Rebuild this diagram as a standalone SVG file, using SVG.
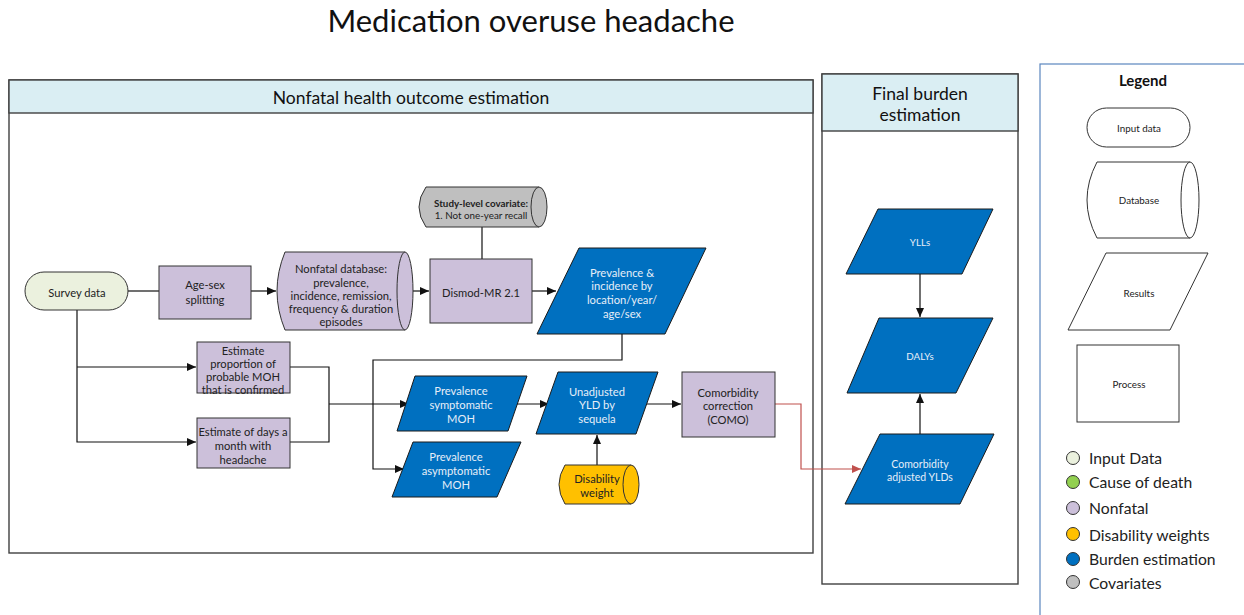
<svg xmlns="http://www.w3.org/2000/svg" width="1244" height="615" viewBox="0 0 1244 615">
  <style>
    text { font-family: Lato, "Liberation Sans", sans-serif; text-anchor: middle; dominant-baseline: central; }
    .t { font-size: 11.2px; fill: #222; }
    .tw { font-size: 11.2px; fill: #E6EEF8; }
    .ts { font-size: 9.8px; fill: #222; }
    .hdr { font-size: 17.5px; fill: #111; }
    .lg { font-size: 15.7px; fill: #222; text-anchor: start; }
    .panel { fill: #fff; stroke: #404040; stroke-width: 1.4; }
    .head { fill: #DAEEF3; stroke: #404040; stroke-width: 1.4; }
    .nf { fill: #CCC0DA; stroke: #333; stroke-width: 1; }
    .be { fill: #0070C0; stroke: #1a1a1a; stroke-width: 1; }
    .inp { fill: #EBF1DE; stroke: #333; stroke-width: 1; }
    .cov { fill: #BFBFBF; stroke: #333; stroke-width: 1; }
    .dw { fill: #FFC000; stroke: #333; stroke-width: 1; }
    .leg { fill: #fff; stroke: #333; stroke-width: 1; }
    .ln { fill: none; stroke: #111; stroke-width: 1.2; }
    .red { fill: none; stroke: #C0504D; stroke-width: 1.2; }
  </style>
  <defs>
    <marker id="arr" markerWidth="10" markerHeight="10" refX="9" refY="5" orient="auto" markerUnits="userSpaceOnUse">
      <path d="M0,1 L9,5 L0,9 Z" fill="#111"/>
    </marker>
    <marker id="arrRed" markerWidth="10" markerHeight="10" refX="9" refY="5" orient="auto" markerUnits="userSpaceOnUse">
      <path d="M0,1 L9,5 L0,9 Z" fill="#C0504D"/>
    </marker>
  </defs>

  <!-- Title -->
  <text x="531" y="20" style="font-size:31px;fill:#111">Medication overuse headache</text>

  <!-- Panels -->
  <g id="panel-nonfatal">
    <rect class="panel" x="9" y="80" width="804" height="473"/>
    <rect class="head" x="9" y="80" width="804" height="33"/>
    <text class="hdr" x="411" y="97">Nonfatal health outcome estimation</text>
  </g>
  <g id="panel-final">
    <rect class="panel" x="822" y="74" width="196" height="510"/>
    <rect class="head" x="822" y="74" width="196" height="57"/>
    <text class="hdr" x="920" y="93">Final burden</text>
    <text class="hdr" x="920" y="114">estimation</text>
  </g>
  <g id="panel-legend">
    <rect x="1040" y="64" width="220" height="570" fill="#fff" stroke="#5B86BE" stroke-width="1.2"/>
    <text x="1143" y="80" style="font-size:15px;font-weight:bold;fill:#111">Legend</text>
  </g>

  <!-- Connectors -->
  <g id="connectors">
    <path class="ln" d="M128,291 H159"/>
    <path class="ln" d="M251,291 H276" marker-end="url(#arr)"/>
    <path class="ln" d="M413,291 H429" marker-end="url(#arr)"/>
    <path class="ln" d="M532,291 H556" marker-end="url(#arr)"/>
    <path class="ln" d="M482,227 V259"/>
    <path class="ln" d="M77,310 V442 H196" marker-end="url(#arr)"/>
    <path class="ln" d="M77,367 H196" marker-end="url(#arr)"/>
    <path class="ln" d="M290,367 H329 V442 H290"/>
    <path class="ln" d="M329,404 H409" marker-end="url(#arr)"/>
    <path class="ln" d="M622,334 V360 H373 V469 H404" marker-end="url(#arr)"/>
    <path class="ln" d="M512,404 H549" marker-end="url(#arr)"/>
    <path class="ln" d="M647,404 H681" marker-end="url(#arr)"/>
    <path class="ln" d="M597,465 V435" marker-end="url(#arr)"/>
    <path class="red" d="M775,404 H801 V469 H861" marker-end="url(#arrRed)"/>
    <path class="ln" d="M920,274 V317" marker-end="url(#arr)"/>
    <path class="ln" d="M920,434 V394" marker-end="url(#arr)"/>
  </g>

  <!-- Nonfatal nodes -->
  <g id="survey-data">
    <rect class="inp" x="25" y="272" width="103" height="38" rx="19"/>
    <text class="t" x="77" y="292">Survey data</text>
  </g>
  <g id="age-sex">
    <rect class="nf" x="159" y="266" width="92" height="53"/>
    <text class="t" x="205" y="284">Age-sex</text>
    <text class="t" x="205" y="299">splitting</text>
  </g>
  <g id="nonfatal-db">
    <path class="nf" d="M285,252 H405 A8,39 0 0 1 405,330 H285 Q269,291 285,252 Z"/>
    <path class="nf" d="M405,252 A8,39 0 0 0 405,330"/>
    <text class="t" x="341" y="268">Nonfatal database:</text>
    <text class="t" x="341" y="282">prevalence,</text>
    <text class="t" x="341" y="295">incidence, remission,</text>
    <text class="t" x="341" y="308">frequency &amp; duration</text>
    <text class="t" x="341" y="321">episodes</text>
  </g>
  <g id="covariate">
    <path class="cov" d="M426,187 H539 A8,20 0 0 1 539,227 H426 Q412,207 426,187 Z"/>
    <path class="cov" d="M539,187 A8,20 0 0 0 539,227"/>
    <text class="ts" x="481" y="203" style="font-weight:bold">Study-level covariate:</text>
    <text class="ts" x="481" y="215">1. Not one-year recall</text>
  </g>
  <g id="dismod">
    <rect class="nf" x="430" y="259" width="102" height="64"/>
    <text class="t" x="481" y="292">Dismod-MR 2.1</text>
  </g>
  <g id="prev-inc">
    <polygon class="be" points="579,248 706,248 665,334 537,334"/>
    <text class="tw" x="622" y="272">Prevalence &amp;</text>
    <text class="tw" x="622" y="285">incidence by</text>
    <text class="tw" x="622" y="299">location/year/</text>
    <text class="tw" x="622" y="313">age/sex</text>
  </g>
  <g id="est-proportion">
    <rect class="nf" x="197" y="342" width="93" height="51"/>
    <text class="t" x="243" y="350">Estimate</text>
    <text class="t" x="243" y="363">proportion of</text>
    <text class="t" x="243" y="376">probable MOH</text>
    <text class="t" x="243" y="389">that is confirmed</text>
  </g>
  <g id="est-days">
    <rect class="nf" x="197" y="418" width="93" height="50"/>
    <text class="t" x="243" y="431">Estimate of days a</text>
    <text class="t" x="243" y="445">month with</text>
    <text class="t" x="243" y="459">headache</text>
  </g>
  <g id="prev-symptomatic">
    <polygon class="be" points="415,376 527,376 508,431 397,431"/>
    <text class="tw" x="461" y="390">Prevalence</text>
    <text class="tw" x="461" y="404">symptomatic</text>
    <text class="tw" x="461" y="418">MOH</text>
  </g>
  <g id="prev-asymptomatic">
    <polygon class="be" points="413,442 521,442 497,497 392,497"/>
    <text class="tw" x="456" y="456">Prevalence</text>
    <text class="tw" x="456" y="470">asymptomatic</text>
    <text class="tw" x="456" y="484">MOH</text>
  </g>
  <g id="unadjusted-yld">
    <polygon class="be" points="558,372 658,372 636,434 536,434"/>
    <text class="tw" x="597" y="391">Unadjusted</text>
    <text class="tw" x="597" y="404">YLD by</text>
    <text class="tw" x="597" y="418">sequela</text>
  </g>
  <g id="disability-weight">
    <path class="dw" d="M565,465 H631 A8,19.5 0 0 1 631,504 H565 Q553,484.5 565,465 Z"/>
    <path class="dw" d="M631,465 A8,19.5 0 0 0 631,504"/>
    <text class="t" x="597" y="478">Disability</text>
    <text class="t" x="597" y="492">weight</text>
  </g>
  <g id="como">
    <rect class="nf" x="682" y="372" width="93" height="65"/>
    <text class="t" x="728" y="392">Comorbidity</text>
    <text class="t" x="728" y="405">correction</text>
    <text class="t" x="728" y="419">(COMO)</text>
  </g>

  <!-- Final burden nodes -->
  <g id="ylls">
    <polygon class="be" points="878,209 993,209 962,274 846,274"/>
    <text class="tw" x="920" y="242" style="font-size:9.8px">YLLs</text>
  </g>
  <g id="dalys">
    <polygon class="be" points="879,318 993,318 956,393 847,393"/>
    <text class="tw" x="920" y="356" style="font-size:9.8px">DALYs</text>
  </g>
  <g id="comorbidity-adjusted">
    <polygon class="be" points="880,434 994,434 960,504 845,504"/>
    <text class="tw" x="920" y="464" style="font-size:10.5px">Comorbidity</text>
    <text class="tw" x="920" y="477" style="font-size:10.5px">adjusted YLDs</text>
  </g>

  <!-- Legend shapes -->
  <g id="legend-input">
    <rect class="leg" x="1087" y="108" width="103" height="39" rx="19.5"/>
    <text class="ts" x="1139" y="128">Input data</text>
  </g>
  <g id="legend-database">
    <path class="leg" d="M1097,162 H1190 A9,38 0 0 1 1190,238 H1097 Q1077,200 1097,162 Z"/>
    <path class="leg" d="M1190,162 A9,38 0 0 0 1190,238"/>
    <text class="ts" x="1139" y="200">Database</text>
  </g>
  <g id="legend-results">
    <polygon class="leg" points="1106,253 1208,253 1170,330 1068,330"/>
    <text class="ts" x="1139" y="293">Results</text>
  </g>
  <g id="legend-process">
    <rect class="leg" x="1077" y="345" width="102" height="77"/>
    <text class="ts" x="1129" y="384">Process</text>
  </g>
  <g id="legend-colours">
    <circle cx="1073" cy="458" r="6.5" fill="#EBF1DE" stroke="#333"/>
    <text class="lg" x="1089" y="458">Input Data</text>
    <circle cx="1073" cy="482" r="6.5" fill="#92D050" stroke="#333"/>
    <text class="lg" x="1089" y="482">Cause of death</text>
    <circle cx="1073" cy="508" r="6.5" fill="#CCC0DA" stroke="#333"/>
    <text class="lg" x="1089" y="508">Nonfatal</text>
    <circle cx="1073" cy="534" r="6.5" fill="#FFC000" stroke="#333"/>
    <text class="lg" x="1089" y="535">Disability weights</text>
    <circle cx="1073" cy="559" r="6.5" fill="#0070C0" stroke="#333"/>
    <text class="lg" x="1089" y="559">Burden estimation</text>
    <circle cx="1073" cy="582" r="6.5" fill="#BFBFBF" stroke="#333"/>
    <text class="lg" x="1089" y="583">Covariates</text>
  </g>
</svg>
